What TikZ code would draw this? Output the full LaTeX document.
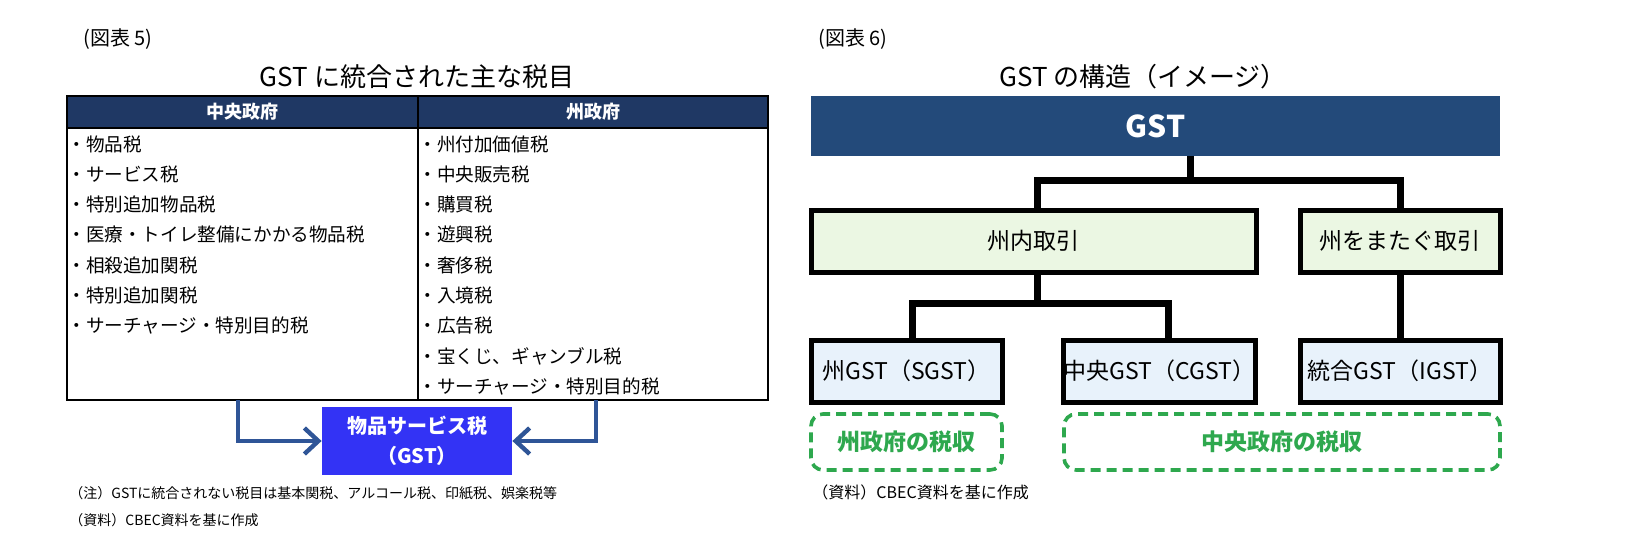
\documentclass[tikz,border=0pt]{standalone}
\usepackage{fontspec}
\setmainfont{Noto Sans CJK JP}
\usetikzlibrary{arrows.meta,calc}
\definecolor{navy}{HTML}{1F3864}
\definecolor{barblue}{HTML}{234A7A}
\definecolor{arrblue}{HTML}{2F5597}
\definecolor{gstblue}{HTML}{3333F5}
\definecolor{lgreen}{HTML}{EBF7E3}
\definecolor{lblue}{HTML}{E8F2FB}
\definecolor{dgreen}{HTML}{2EA84E}
\begin{document}
\begin{tikzpicture}[x=0.5pt,y=-0.5pt,
  item/.style={anchor=west,inner sep=0pt,font=\fontsize{9.3pt}{10pt}\selectfont},
  hdr/.style={fill=navy,draw=black,line width=1pt,text=white,font=\fontsize{9pt}{10pt}\selectfont\bfseries},
  lvl/.style={draw=black,line width=2.5pt,inner sep=0pt,font=\fontsize{11.5pt}{12pt}\selectfont},
  conn/.style={line width=3.5pt},
  rev/.style={draw=dgreen,line width=1.8pt,dash pattern=on 5pt off 3pt,rounded corners=6pt,text=dgreen,font=\fontsize{11.5pt}{12pt}\selectfont\bfseries},
  note/.style={anchor=west,inner sep=0pt,font=\fontsize{7pt}{8pt}\selectfont}]
\useasboundingbox (0,0) rectangle (1641,556);
% ===== left panel
\node[anchor=west,inner sep=0pt,font=\fontsize{10pt}{11pt}\selectfont] (f5) at (83,39) {(図表 5)};
\node[inner sep=0pt,font=\fontsize{13pt}{14pt}\selectfont] (t5) at (417,77) {GST に統合された主な税目};
\node[hdr,minimum width=175.5pt,minimum height=16pt,inner sep=0pt] (h1) at (242.5,112) {中央政府};
\node[hdr,minimum width=175pt,minimum height=16pt,inner sep=0pt] (h2) at (593,112) {州政府};
\node[draw=black,line width=1pt,minimum width=175.5pt,minimum height=136pt,inner sep=0pt] (c1) at (242.5,264) {};
\node[draw=black,line width=1pt,minimum width=175pt,minimum height=136pt,inner sep=0pt] (c2) at (593,264) {};
\foreach \t [count=\i] in {物品税,サービス税,特別追加物品税,医療・トイレ整備にかかる物品税,相殺追加関税,特別追加関税,サーチャージ・特別目的税}
  \node[item] (l\i) at (67,{144+30.3*(\i-1)}) {・\t};
\foreach \t [count=\i] in {州付加価値税,中央販売税,購買税,遊興税,奢侈税,入境税,広告税,{宝くじ、ギャンブル税},サーチャージ・特別目的税}
  \node[item] (r\i) at (418,{144+30.3*(\i-1)}) {・\t};
\node[fill=gstblue,minimum width=95pt,minimum height=34pt,inner sep=0pt,text=white,align=center,font=\fontsize{10pt}{15pt}\selectfont\bfseries] (gst5) at (417,441) {物品サービス税\\（GST）};
\coordinate (a1) at (238,400);
\coordinate (a2) at (596,400);
\draw[arrblue,line width=2.2pt,-{Straight Barb[length=7pt,width=13pt,line width=2.2pt]}] (a1) |- (gst5.west);
\draw[arrblue,line width=2.2pt,-{Straight Barb[length=7pt,width=13pt,line width=2.2pt]}] (a2) |- (gst5.east);
\node[note] (n1) at (69,493) {（注）GSTに統合されない税目は基本関税、アルコール税、印紙税、娯楽税等};
\node[note] (n2) at (69,520) {（資料）CBEC資料を基に作成};
% ===== right panel
\node[anchor=west,inner sep=0pt,font=\fontsize{10pt}{11pt}\selectfont] (f6) at (818,39) {(図表 6)};
\node[inner sep=0pt,font=\fontsize{13pt}{14pt}\selectfont] (t6) at (1143,77) {GST の構造（イメージ）};
\node[fill=barblue,minimum width=344.5pt,minimum height=30pt,inner sep=0pt,text=white,font=\fontsize{15pt}{16pt}\selectfont\bfseries] (bar) at (1155.5,126) {GST};
\node[lvl,fill=lgreen,minimum width=222.5pt,minimum height=31pt] (intra) at (1033.5,241) {州内取引};
\node[lvl,fill=lgreen,minimum width=100pt,minimum height=31pt] (inter) at (1400,241) {州をまたぐ取引};
\node[lvl,fill=lblue,minimum width=95.5pt,minimum height=31pt] (sgst) at (906.5,371) {州GST（SGST）};
\node[lvl,fill=lblue,minimum width=95.5pt,minimum height=31pt] (cgst) at (1159.5,371) {中央GST（CGST）};
\node[lvl,fill=lblue,minimum width=100pt,minimum height=31pt] (igst) at (1400,371) {統合GST（IGST）};
\coordinate (j1) at (1190,180);
\coordinate (j2) at (1037,303);
\draw[conn] (bar.south -| j1) -- (j1);
\draw[conn] (j1) -| (intra.north -| j2);
\draw[conn] (j1) -| (inter.north);
\draw[conn] (intra.south -| j2) -- (j2);
\draw[conn] (j2) -| ($(sgst.north)+(6,0)$);
\draw[conn] (j2) -| ($(cgst.north)+(9,0)$);
\draw[conn] (inter.south) -- (igst.north);
\node[rev,minimum width=95.5pt,minimum height=28pt] (rs) at (906.5,442) {州政府の税収};
\node[rev,minimum width=218pt,minimum height=28pt] (rc) at (1282,442) {中央政府の税収};
\node[note,font=\fontsize{8pt}{9pt}\selectfont] (n3) at (812,492) {（資料）CBEC資料を基に作成};
\end{tikzpicture}
\end{document}
